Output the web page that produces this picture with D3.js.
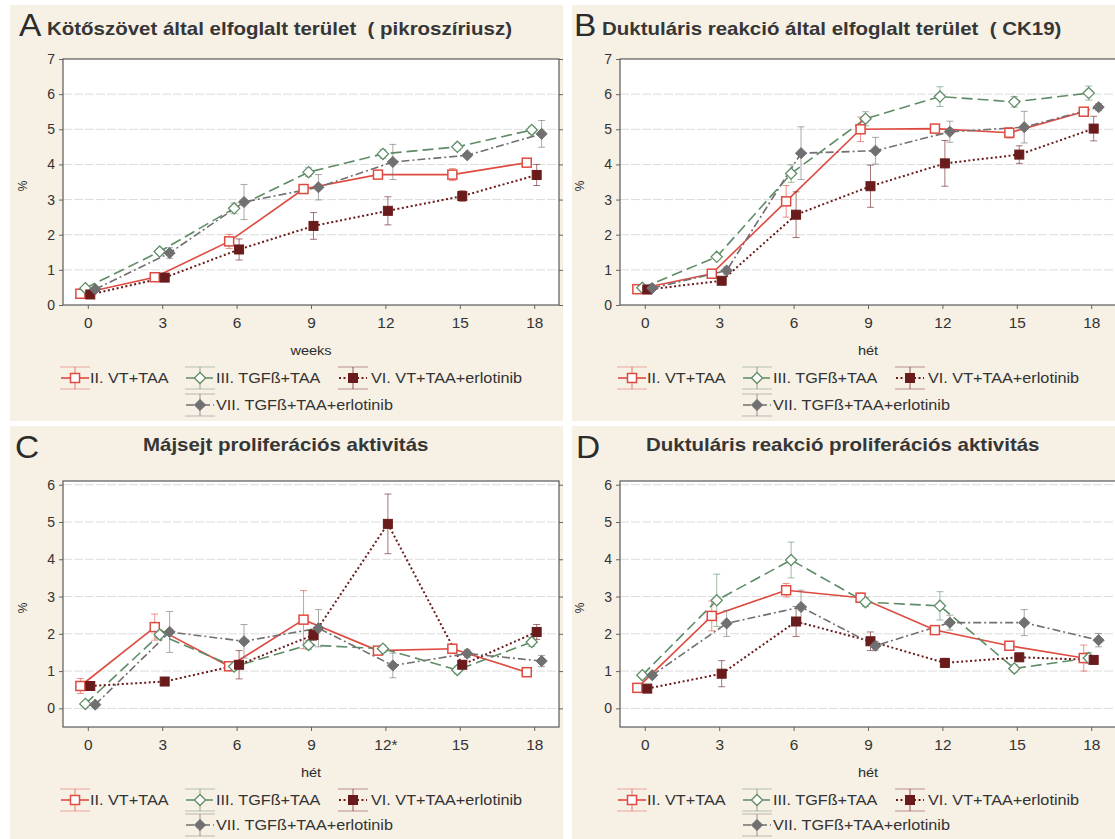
<!DOCTYPE html>
<html>
<head>
<meta charset="utf-8">
<script src="https://cdn.jsdelivr.net/npm/d3@7"></script>
<style>
  body { margin: 0; background: #fff; }
  text { font-family: Arial, "Liberation Sans", sans-serif; fill: #2b2b2b; white-space: pre; }
</style>
</head>
<body>
<div id="chart"></div>
<script>
// shared categories
const weeks = [0, 3, 6, 9, 12, 15, 18];
const seriesNames = ['II. VT+TAA', 'III. TGFß+TAA', 'VI. VT+TAA+erlotinib', 'VII. TGFß+TAA+erlotinib'];
const panelLetters = ['A', 'B', 'C', 'D'];
const panelTitles = ['Kötőszövet által elfoglalt terület  ( pikroszíriusz)',
  'Duktuláris reakció által elfoglalt terület  ( CK19)',
  'Májsejt proliferációs aktivitás',
  'Duktuláris reakció proliferációs aktivitás'];
const xTitles = ['weeks', 'hét', 'hét', 'hét'];
const yTicksArea = [0, 1, 2, 3, 4, 5, 6, 7];
const yTicksProlif = [0, 1, 2, 3, 4, 5, 6];

// A - connective tissue area (mean, error)
const aII = [0.32, 0.79, 1.81, 3.3, 3.71, 3.71, 4.05];
const aIIe = [0.05, 0.08, 0.2, 0.12, 0.1, 0.17, 0.12];
const aIII = [0.48, 1.52, 2.75, 3.78, 4.3, 4.5, 4.98];
const aIIIe = [0.05, 0.08, 0.15, 0.12, 0.12, 0.1, 0.1];
const aVI = [0.3, 0.78, 1.58, 2.25, 2.68, 3.1, 3.7];
const aVIe = [0.05, 0.08, 0.3, 0.38, 0.4, 0.15, 0.3];
const aVII = [0.45, 1.48, 2.93, 3.35, 4.07, 4.26, 4.87];
const aVIIe = [0.05, 0.15, 0.5, 0.36, 0.5, 0.05, 0.38];

// B - ductular reaction area
const bII = [0.45, 0.89, 2.95, 5.0, 5.02, 4.9, 5.5];
const bIIe = [0.05, 0.1, 0.45, 0.35, 0.08, 0.15, 0.05];
const bIII = [0.49, 1.37, 3.74, 5.3, 5.93, 5.78, 6.03];
const bIIIe = [0.05, 0.07, 0.25, 0.2, 0.28, 0.15, 0.2];
const bVI = [0.44, 0.69, 2.57, 3.38, 4.03, 4.28, 5.02];
const bVIe = [0.05, 0.07, 0.65, 0.6, 0.65, 0.25, 0.35];
const bVII = [0.48, 0.98, 4.32, 4.39, 4.93, 5.06, 5.63];
const bVIIe = [0.05, 0.1, 0.75, 0.38, 0.3, 0.45, 0.1];

// C - hepatocyte proliferation
const cII = [0.6, 2.18, 1.13, 2.38, 1.55, 1.6, 0.97];
const cIIe = [0.2, 0.35, 0.12, 0.78, 0.08, 0.1, 0.12];
const cIII = [0.12, 1.98, 1.12, 1.7, 1.6, 1.03, 1.78];
const cIIIe = [0.05, 0.12, 0.1, 0.12, 0.1, 0.1, 0.12];
const cVI = [0.6, 0.72, 1.17, 1.97, 4.95, 1.17, 2.05];
const cVIe = [0.05, 0.08, 0.38, 0.15, 0.8, 0.1, 0.2];
const cVII = [0.1, 2.05, 1.8, 2.15, 1.15, 1.47, 1.27];
const cVIIe = [0.05, 0.55, 0.45, 0.5, 0.33, 0.1, 0.15];

// D - ductular reaction proliferation
const dII = [0.55, 2.48, 3.17, 2.97, 2.1, 1.68, 1.35];
const dIIe = [0.08, 0.4, 0.18, 0.12, 0.06, 0.08, 0.35];
const dIII = [0.89, 2.9, 3.98, 2.85, 2.75, 1.07, 1.35];
const dIIIe = [0.06, 0.7, 0.48, 0.12, 0.38, 0.1, 0.15];
const dVI = [0.53, 0.93, 2.33, 1.8, 1.22, 1.37, 1.3];
const dVIe = [0.05, 0.35, 0.4, 0.25, 0.12, 0.05, 0.08];
const dVII = [0.89, 2.28, 2.72, 1.68, 2.3, 2.3, 1.83];
const dVIIe = [0.05, 0.35, 0.45, 0.12, 0.2, 0.35, 0.18];

// series styles: colour, dash, marker, small x shift so points don't overlap
const styles = [
  {color: '#df4a40', dash: null, marker: 'square', filled: false, shift: -0.3, width: 1.6},
  {color: '#5f8c66', dash: '11,5', marker: 'diamond', filled: false, shift: -0.1, width: 1.6},
  {color: '#6a1b1b', dash: '2,2.5', marker: 'square', filled: true, shift: 0.1, width: 2},
  {color: '#707070', dash: '8,3,2,3', marker: 'diamond', filled: true, shift: 0.3, width: 1.6}
];

const panelData = [
  [[aII, aIIe], [aIII, aIIIe], [aVI, aVIe], [aVII, aVIIe]],
  [[bII, bIIe], [bIII, bIIIe], [bVI, bVIe], [bVII, bVIIe]],
  [[cII, cIIe], [cIII, cIIIe], [cVI, cVIe], [cVII, cVIIe]],
  [[dII, dIIe], [dIII, dIIIe], [dVI, dVIe], [dVII, dVIIe]]
];

// the source figure is stretched sideways, so text gets a horizontal scale
const stretch = 1.17;

let svg = d3.select('#chart').append('svg')
  .attr('width', 1115)
  .attr('height', 839);

// panel backgrounds
let bgX = [10, 572, 10, 572], bgY = [5, 5, 426, 426], bgH = [416, 416, 413, 413];
for (let i = 0; i < 4; i++) {
  svg.append('rect')
    .attr('x', bgX[i]).attr('y', bgY[i])
    .attr('width', i % 2 === 0 ? 553 : 543).attr('height', bgH[i])
    .attr('fill', '#f6f0e5');
}

// adds a text that is widened by the stretch factor
function wideText(g, x, y, str, size, sx) {
  return g.append('text')
    .attr('transform', 'translate(' + x + ',' + y + ') scale(' + sx + ',1)')
    .style('font-size', size + 'px')
    .text(str);
}

// draws one marker centred on 0,0
function marker(g, st, size) {
  if (st.marker === 'square') {
    g.append('rect')
      .attr('x', -size / 2).attr('y', -size / 2)
      .attr('width', size).attr('height', size)
      .attr('fill', st.filled ? st.color : '#fff')
      .attr('stroke', st.color)
      .attr('stroke-width', st.filled ? 1 : 1.5);
  } else {
    let r = size * 0.62;
    g.append('path')
      .attr('d', 'M0,' + (-r) + 'L' + r + ',0L0,' + r + 'L' + (-r) + ',0Z')
      .attr('fill', st.filled ? st.color : '#fff')
      .attr('stroke', st.color)
      .attr('stroke-width', st.filled ? 1 : 1.3);
  }
}

function drawPanel(p) {
  let ox = (p % 2) * 557, oy = p < 2 ? 0 : 422;
  let top = p < 2 ? 59 : 481, bottom = p < 2 ? 305 : 727;
  let left = 63 + ox, right = 559 + ox;
  let yTicks = p < 2 ? yTicksArea : yTicksProlif;

  let x = d3.scaleLinear().domain([-1, 19]).range([left, right]);
  let y = d3.scaleLinear().domain(p < 2 ? [0, 7] : [-0.5, 6.1]).range([bottom, top]);

  let g = svg.append('g');

  // letter and title
  wideText(g, [19, 574, 15, 576][p], oy + 36, panelLetters[p], 31, 1.08);
  let titleX = [47, 602, 143, 646][p];
  wideText(g, titleX, oy + (p < 2 ? 35 : 29), panelTitles[p], 17.5, stretch)
    .style('font-weight', 'bold')
    .style('fill', '#363636');

  // plot area
  g.append('rect')
    .attr('x', left).attr('y', top)
    .attr('width', right - left).attr('height', bottom - top)
    .attr('fill', '#fff');

  // gridlines
  g.selectAll('.grid').data(yTicks.filter(function(t) { return y(t) > top + 1 && y(t) < bottom - 1; }))
    .enter().append('line')
      .attr('x1', left).attr('x2', right)
      .attr('y1', function(d) { return y(d); })
      .attr('y2', function(d) { return y(d); })
      .attr('stroke', '#dcdcdc')
      .attr('stroke-dasharray', '9,2');

  // axes
  let yAxis = g.append('g')
    .attr('transform', 'translate(' + left + ',0)')
    .style('font-size', '14px')
    .call(d3.axisLeft(y).tickValues(yTicks).tickFormat(d3.format('d')).tickSize(4).tickPadding(4));
  yAxis.select('.domain').remove();
  g.append('g')
    .attr('transform', 'translate(' + right + ',0)')
    .call(d3.axisRight(y).tickValues(yTicks).tickSize(4).tickFormat(''))
    .select('.domain').remove();
  let xAxis = g.append('g')
    .attr('transform', 'translate(0,' + bottom + ')')
    .style('font-size', '14px')
    .call(d3.axisBottom(x).tickValues(weeks).tickSize(4).tickPadding(9));
  xAxis.select('.domain').remove();
  xAxis.selectAll('.tick text').attr('transform', 'scale(1.1,1)');
  g.selectAll('.tick line').attr('stroke', '#666');
  g.selectAll('.tick text').style('fill', '#333');
  if (p === 2) {
    xAxis.selectAll('.tick text').filter(function(d) { return d === 12; })
      .text('12*');
  }

  g.append('rect')
    .attr('x', left).attr('y', top)
    .attr('width', right - left).attr('height', bottom - top)
    .attr('fill', 'none')
    .attr('stroke', '#5a5a5a')
    .attr('stroke-width', 1.2);

  // axis titles
  wideText(g, (left + right) / 2, bottom + 50, xTitles[p], 13, 1.12)
    .style('text-anchor', 'middle');
  g.append('text')
    .attr('transform', 'translate(' + (ox + 27) + ',' + ((top + bottom) / 2 + 4) + ') rotate(-90)')
    .style('font-size', '12px')
    .style('text-anchor', 'middle')
    .text('%');

  // series
  let plot = g.append('g');
  panelData[p].forEach(function(s, i) {
    let st = styles[i];
    let pts = weeks.map(function(w, j) { return {w: w, v: s[0][j], e: s[1][j]}; });
    let line = d3.line()
      .x(function(d) { return x(d.w + st.shift); })
      .y(function(d) { return y(d.v); });
    plot.append('path')
      .datum(pts)
      .attr('d', line)
      .attr('fill', 'none')
      .attr('stroke', st.color)
      .attr('stroke-width', st.width)
      .attr('stroke-dasharray', st.dash);
  });
  panelData[p].forEach(function(s, i) {
    let st = styles[i];
    weeks.forEach(function(w, j) {
      let cx = x(w + st.shift), v = s[0][j], e = s[1][j];
      let eg = plot.append('g').attr('stroke', st.color).attr('stroke-opacity', 0.6).attr('stroke-width', 1);
      eg.append('line').attr('x1', cx).attr('x2', cx).attr('y1', y(v - e)).attr('y2', y(v + e));
      eg.append('line').attr('x1', cx - 3.5).attr('x2', cx + 3.5).attr('y1', y(v - e)).attr('y2', y(v - e));
      eg.append('line').attr('x1', cx - 3.5).attr('x2', cx + 3.5).attr('y1', y(v + e)).attr('y2', y(v + e));
    });
  });
  panelData[p].forEach(function(s, i) {
    let st = styles[i];
    weeks.forEach(function(w, j) {
      let mg = plot.append('g').attr('transform', 'translate(' + x(w + st.shift) + ',' + y(s[0][j]) + ')');
      marker(mg, st, 9);
    });
  });

  // legend
  let legY1 = oy + 378, legY2 = oy + (p < 2 ? 405 : 403);
  let legPos = [[75, legY1], [200, legY1], [353, legY1], [200, legY2]];
  let textX = [90, 216, 371, 216];
  seriesNames.forEach(function(name, i) {
    let st = styles[i];
    let cx = legPos[i][0] + ox, cy = legPos[i][1];
    let lg = g.append('g');
    lg.append('line').attr('x1', cx - 15).attr('x2', cx + 15).attr('y1', cy - 11).attr('y2', cy - 11)
      .attr('stroke', st.color).attr('stroke-opacity', 0.45);
    lg.append('line').attr('x1', cx - 15).attr('x2', cx + 15).attr('y1', cy + 11).attr('y2', cy + 11)
      .attr('stroke', st.color).attr('stroke-opacity', 0.45);
    lg.append('line').attr('x1', cx).attr('x2', cx).attr('y1', cy - 11).attr('y2', cy + 11)
      .attr('stroke', st.color).attr('stroke-opacity', 0.7);
    lg.append('line').attr('x1', cx - 14).attr('x2', cx + 14).attr('y1', cy).attr('y2', cy)
      .attr('stroke', st.color).attr('stroke-width', st.width).attr('stroke-dasharray', st.dash);
    marker(lg.append('g').attr('transform', 'translate(' + cx + ',' + cy + ')'), st, 9);
    wideText(lg, textX[i] + ox, cy + 5, name, 14.5, 1.12)
      .style('fill', '#333');
  });
}

for (let p = 0; p < 4; p++) drawPanel(p);
</script>
</body>
</html>
